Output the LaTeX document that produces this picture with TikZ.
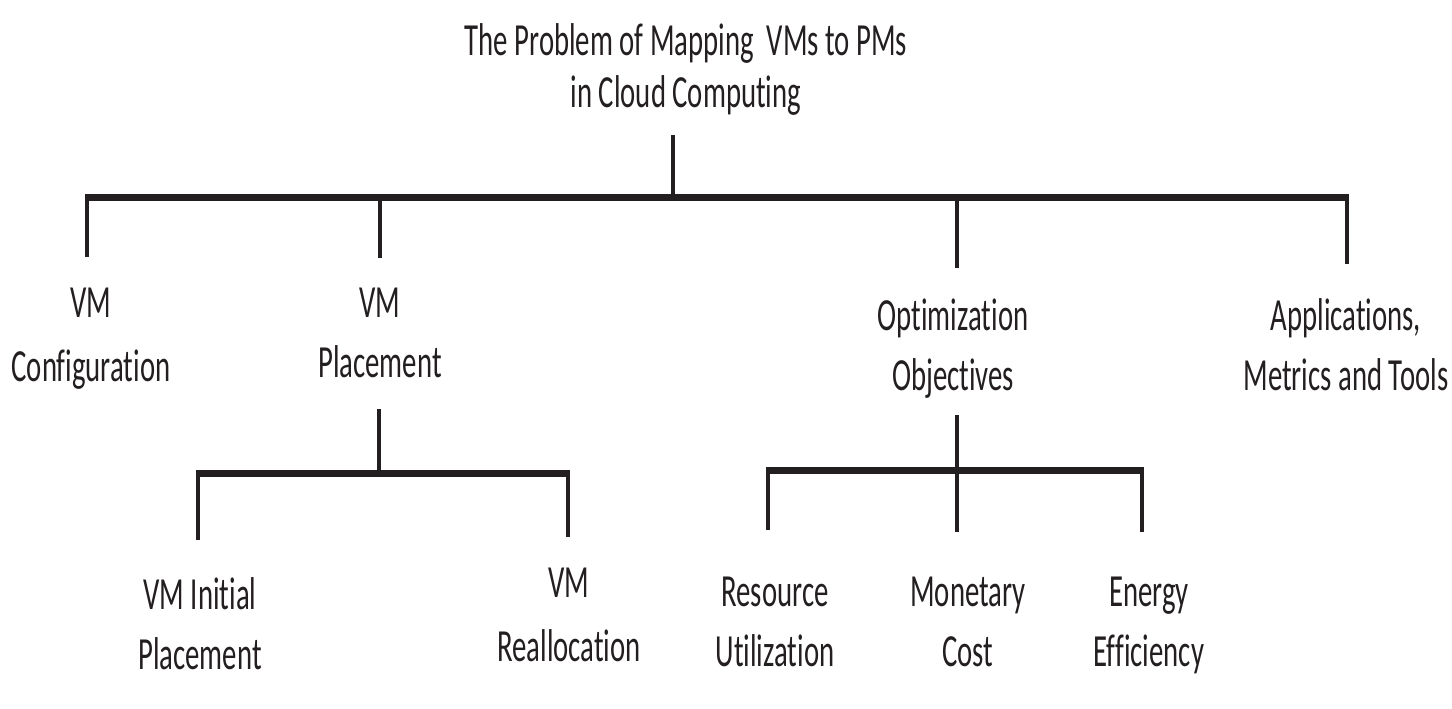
\documentclass[tikz,border=0pt]{standalone}
\usepackage{fontspec}
\setmainfont{Carlito}[FakeStretch=0.625,Ligatures=CommonOff]
\usepackage{tikz}
\usetikzlibrary{positioning}
\definecolor{ink}{HTML}{231F20}

\begin{document}
\begin{tikzpicture}[x=0.5pt,y=-0.5pt,
  topic/.style={align=center,anchor=base,inner sep=0pt,text=ink,font=\fontsize{23pt}{30pt}\selectfont},
  rail/.style={draw=ink,line width=3.5pt},
  stem/.style={draw=ink,line width=2pt}]
  \useasboundingbox (0,0) rectangle (1452,708);
  % labels
  \node[topic,font=\fontsize{23pt}{26pt}\selectfont] (title) at (686,107) {The Problem of Mapping~ VMs to PMs\\in Cloud Computing};
  \node[topic,font=\fontsize{23pt}{32pt}\selectfont] (conf) at (91,381) {VM\\Configuration};
  \node[topic] (place) at (380,377) {VM\\Placement};
  \node[topic] (optim) at (953,390) {Optimization\\Objectives};
  \node[topic] (apps) at (1346,390) {Applications,\\Metrics and Tools};
  \node[topic] (init) at (200,669) {VM Initial\\Placement};
  \node[topic,font=\fontsize{23pt}{32pt}\selectfont] (realloc) at (569,661) {VM\\Reallocation};
  \node[topic] (resource) at (775,666) {Resource\\Utilization};
  \node[topic] (money) at (968,666) {Monetary\\Cost};
  \node[topic] (energy) at (1149,666) {Energy\\Efficiency};
  % first level
  \coordinate (rootTop) at (673,135);
  \draw[rail] (85,197) -- (1349,197);
  \draw[stem] (rootTop) -- (673,197);
  \foreach \x/\y in {87/257,380/258,957/268,1347/264}
    \draw[stem] (\x,195) -- (\x,\y);
  % placement branch
  \coordinate (placeTop) at (379,409);
  \draw[stem] (placeTop) -- (379,473);
  \draw[rail] (196,473) -- (570,473);
  \foreach \x/\y in {198/540,568/537}
    \draw[stem] (\x,471) -- (\x,\y);
  % objectives branch
  \coordinate (optimTop) at (957,415);
  \draw[rail] (766,470) -- (1144,470);
  \draw[stem] (optimTop) -- (957,532);
  \foreach \x/\y in {768/530,1142/532}
    \draw[stem] (\x,468) -- (\x,\y);
\end{tikzpicture}
\end{document}
